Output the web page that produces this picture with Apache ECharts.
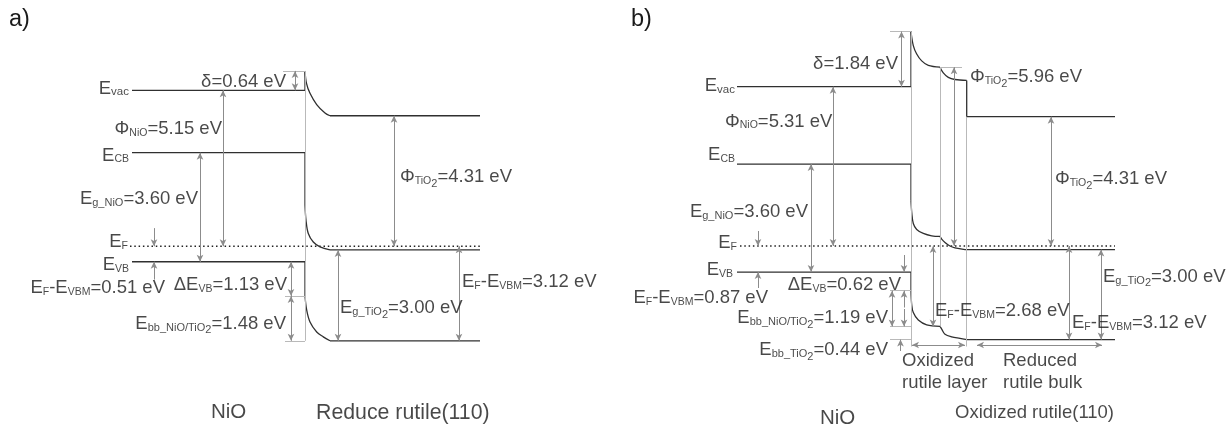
<!DOCTYPE html>
<html>
<head>
<meta charset="utf-8">
<script src="https://cdn.jsdelivr.net/npm/echarts@6/dist/echarts.min.js"></script>
<style>
html,body{margin:0;padding:0;background:#fff;}
#chart{width:1231px;height:434px;}
</style>
</head>
<body>
<div id="chart"></div>
<script>
// Energies in eV relative to the Fermi level (E_F = 0); x = schematic position, interface at 0
// ---- a) NiO / reduced rutile(110)
const aNiOVac    = [[-17.3, 5.15], [0, 5.15], [0, 5.79]];
const aTiVacBend = [[0, 5.79], [0.15, 5.38], [0.5, 5.05], [1.17, 4.68], [2.0, 4.40], [2.5, 4.31]];
const aTiVac     = [[2.5, 4.31], [17.5, 4.31]];
const aNiOCB     = [[-17.3, 3.09], [0, 3.09], [0, 1.36]];
const aTiCBBend  = [[0, 1.36], [0.1, 0.86], [0.33, 0.42], [0.83, 0.14], [1.5, -0.02], [2.5, -0.12]];
const aTiCB      = [[2.5, -0.12], [17.5, -0.12]];
const aNiOVB     = [[-17.3, -0.51], [0, -0.51], [0, -1.64]];
const aTiVBBend  = [[0, -1.64], [0.17, -2.11], [0.5, -2.50], [1.17, -2.83], [1.83, -2.99], [2.5, -3.12]];
const aTiVB      = [[2.5, -3.12], [17.5, -3.12]];
const aFermi     = [[-17.5, 0], [17.5, 0]];

// ---- b) NiO / oxidized rutile(110)
const bNiOVac     = [[-17.4, 5.31], [0, 5.31], [0, 7.15]];
const bTiVacBend1 = [[0, 7.15], [0.23, 6.68], [0.57, 6.40], [1.07, 6.17], [1.73, 6.02], [2.9, 5.96]];
const bTiVacBend2 = [[2.9, 5.96], [3.23, 5.77], [3.73, 5.62], [4.4, 5.55], [5.57, 5.52]];
const bTiVac      = [[5.57, 5.52], [5.57, 4.31], [20.4, 4.31]];
const bNiOCB      = [[-17.4, 2.73], [0, 2.73], [0, 1.51]];
const bTiCBBend1  = [[0, 1.51], [0.08, 1.10], [0.23, 0.75], [0.57, 0.55], [1.23, 0.42], [2.07, 0.34], [2.9, 0.32]];
const bTiCBBend2  = [[2.9, 0.32], [3.07, 0.23], [3.4, 0.12], [3.9, 0.0], [4.4, -0.06], [5.4, -0.12]];
const bTiCB       = [[5.4, -0.12], [20.4, -0.12]];
const bNiOVB      = [[-17.4, -0.87], [0, -0.87], [0, -1.49]];
const bTiVBBend1  = [[0, -1.49], [0.07, -1.95], [0.23, -2.22], [0.73, -2.47], [1.57, -2.63], [2.9, -2.68]];
const bTiVBBend2  = [[2.9, -2.68], [3.07, -2.77], [3.4, -2.94], [4.07, -3.03], [4.9, -3.08], [5.57, -3.12]];
const bTiVB       = [[5.57, -3.12], [20.4, -3.12]];
const bFermi      = [[-17.1, 0], [20.4, 0]];

const FONT = 'Liberation Sans, Arial, sans-serif';
const BLACK = '#303030';
const GUIDE = '#b9b9b9';
const ARROW = '#8c8c8c';
const TXT = '#1a1a1a';

const RICH = {
  m: {fontSize: 18.5, lineHeight: 22, verticalAlign: 'bottom', fontFamily: FONT, color: TXT},
  L: {fontSize: 20.5, lineHeight: 22, verticalAlign: 'bottom', fontFamily: FONT, color: TXT},
  X: {fontSize: 21.3, lineHeight: 22, verticalAlign: 'bottom', fontFamily: FONT, color: TXT},
  s: {fontSize: 11.5, lineHeight: 17, verticalAlign: 'bottom', fontFamily: FONT, color: TXT},
  c: {fontSize: 10.5, lineHeight: 16, verticalAlign: 'bottom', fontFamily: FONT, color: TXT},
  g: {fontSize: 11, lineHeight: 14, verticalAlign: 'bottom', fontFamily: FONT, color: TXT},
  t: {fontSize: 11, lineHeight: 7, verticalAlign: 'top', padding: [13.5, 0, 0, 0], fontFamily: FONT, color: TXT}
};

function band(data, i, smooth) {
  return {type: 'line', xAxisIndex: i, yAxisIndex: i, data: data, symbol: 'none',
    smooth: smooth ? 0.35 : false,
    lineStyle: {color: BLACK, width: 1.3}, silent: true, animation: false, z: 4};
}
function fermi(data, i) {
  return {type: 'line', xAxisIndex: i, yAxisIndex: i, data: data, symbol: 'none',
    lineStyle: {color: '#222', width: 1.6, type: [1.5, 2.8]}, silent: true, animation: false, z: 4};
}
const AS = [5, 7];
function seg(x1, y1, x2, y2, s1, s2) {
  return [{coord: [x1, y1], symbol: s1 || 'none', symbolSize: AS}, {coord: [x2, y2], symbol: s2 || 'none', symbolSize: AS}];
}
function dbl(x, y1, y2) { return seg(x, y1, x, y2, 'arrow', 'arrow'); }
function one(x, yFrom, yTo) { return seg(x, yFrom, x, yTo, 'none', 'arrow'); }
function dblH(x1, x2, y) { return seg(x1, y, x2, y, 'arrow', 'arrow'); }
function marks(i, segs, color, z) {
  return {type: 'line', xAxisIndex: i, yAxisIndex: i, data: [], symbol: 'none', color: color,
    silent: true, animation: false, z: z,
    markLine: {silent: true, animation: false, symbol: ['none', 'none'],
      label: {show: false}, emphasis: {disabled: true},
      itemStyle: {color: color},
      lineStyle: {color: color, width: 1, type: 'solid'}, data: segs}};
}
function texts(i, items) {
  return {type: 'scatter', xAxisIndex: i, yAxisIndex: i, symbolSize: 0.1, clip: false,
    silent: true, animation: false, z: 6, itemStyle: {color: 'rgba(0,0,0,0)'},
    label: {show: true, position: 'inside', verticalAlign: 'middle', color: TXT, fontFamily: FONT, rich: RICH},
    data: items.map(function (d) { return {value: [d[0], d[1]], label: {formatter: d[2], align: d[3]}}; })};
}

const aGuides = [
  seg(0, 5.79, 0, -3.12), seg(-2.2, 5.79, 0, 5.79), seg(-2.0, -1.64, 0, -1.64), seg(-2.0, -3.12, 0, -3.12)
];
const aArrows = [
  dbl(-1.0, 5.79, 5.15), dbl(-1.4, -0.51, -1.64), dbl(-1.4, -1.64, -3.12),
  dbl(-8.2, 5.15, 0), dbl(-10.5, 3.09, -0.51),
  one(-15.1, 0.6, 0), one(-15.1, -1.1, -0.51),
  dbl(8.9, 4.31, 0), dbl(3.3, -0.12, -3.12), dbl(15.4, 0, -3.12)
];
const bGuides = [
  seg(0, 7.15, 0, -3.35), seg(-2.1, 7.15, 0, 7.15),
  seg(2.97, 5.96, 2.97, -2.68), seg(2.9, 5.96, 5.1, 5.96),
  seg(5.57, 4.31, 5.57, -3.35),
  seg(-2.1, -1.49, 0, -1.49), seg(-2.1, -2.68, 0, -2.68), seg(-2.1, -3.12, 0, -3.12)
];
const bArrows = [
  dbl(-0.95, 7.15, 5.31), dbl(4.3, 5.96, 0), dbl(-7.8, 5.31, 0), dbl(-10.0, 2.73, -0.87),
  one(-15.3, 0.5, 0), one(-15.3, -1.4, -0.87),
  one(-0.7, -0.3, -0.87), one(-0.7, -2.05, -1.49), one(-0.7, -2.1, -2.68), one(-1.05, -3.5, -3.12),
  dbl(-1.9, -1.49, -2.68), dbl(2.2, 0, -2.68),
  dblH(0.1, 5.4, -3.3), dblH(6.6, 19.1, -3.3),
  dbl(14.0, 4.31, 0), dbl(15.8, 0, -3.12), dbl(19.0, -0.12, -3.12)
];

const aTexts = [
  [-17.6, 5.25, '{m|E}{s|vac}', 'right'],
  [-1.9, 5.48, '{m|δ=0.64 eV}', 'right'],
  [-8.3, 3.93, '{m|Φ}{c|NiO}{m|=5.15 eV}', 'right'],
  [-17.6, 3.05, '{m|E}{c|CB}', 'right'],
  [-10.7, 1.60, '{m|E}{g|g_NiO}{m|=3.60 eV}', 'right'],
  [-17.7, 0.20, '{m|E}{c|F}', 'right'],
  [-17.6, -0.56, '{m|E}{c|VB}', 'right'],
  [-14.0, -1.34, '{m|E}{c|F}{m|-E}{c|VBM}{m|=0.51 eV}', 'right'],
  [-1.8, -1.24, '{m|ΔE}{c|VB}{m|=1.13 eV}', 'right'],
  [-1.9, -2.50, '{m|E}{g|bb_NiO/TiO}{t|2}{m|=1.48 eV}', 'right'],
  [9.5, 2.33, '{m|Φ}{c|TiO}{t|2}{m|=4.31 eV}', 'left'],
  [3.5, -2.00, '{m|E}{g|g_TiO}{t|2}{m|=3.00 eV}', 'left'],
  [15.7, -1.12, '{m|E}{c|F}{m|-E}{c|VBM}{m|=3.12 eV}', 'left'],
  [-9.4, -5.48, '{L|NiO}', 'left'],
  [1.1, -5.48, '{X|Reduce rutile(110)}', 'left']
];
const bTexts = [
  [-17.6, 5.37, '{m|E}{s|vac}', 'right'],
  [-1.3, 6.13, '{m|δ=1.84 eV}', 'right'],
  [-18.6, 4.20, '{m|Φ}{c|NiO}{m|=5.31 eV}', 'left'],
  [-17.6, 3.08, '{m|E}{c|CB}', 'right'],
  [5.9, 5.68, '{m|Φ}{c|TiO}{t|2}{m|=5.96 eV}', 'left'],
  [14.4, 2.28, '{m|Φ}{c|TiO}{t|2}{m|=4.31 eV}', 'left'],
  [-10.3, 1.17, '{m|E}{g|g_NiO}{m|=3.60 eV}', 'right'],
  [-17.4, 0.15, '{m|E}{c|F}', 'right'],
  [-17.8, -0.75, '{m|E}{c|VB}', 'right'],
  [-1.0, -1.25, '{m|ΔE}{c|VB}{m|=0.62 eV}', 'right'],
  [-14.3, -1.68, '{m|E}{c|F}{m|-E}{c|VBM}{m|=0.87 eV}', 'right'],
  [-2.3, -2.35, '{m|E}{g|bb_NiO/TiO}{t|2}{m|=1.19 eV}', 'right'],
  [-2.3, -3.42, '{m|E}{g|bb_TiO}{t|2}{m|=0.44 eV}', 'right'],
  [2.4, -2.13, '{m|E}{c|F}{m|-E}{c|VBM}{m|=2.68 eV}', 'left'],
  [19.2, -0.97, '{m|E}{g|g_TiO}{t|2}{m|=3.00 eV}', 'left'],
  [16.1, -2.52, '{m|E}{c|F}{m|-E}{c|VBM}{m|=3.12 eV}', 'left'],
  [-0.9, -3.78, '{m|Oxidized}', 'left'],
  [-0.9, -4.50, '{m|rutile layer}', 'left'],
  [9.2, -3.78, '{m|Reduced}', 'left'],
  [9.2, -4.50, '{m|rutile bulk}', 'left'],
  [-9.1, -5.73, '{L|NiO}', 'left'],
  [4.4, -5.53, '{m|Oxidized rutile(110)}', 'left']
];

const axX = function (i) { return {type: 'value', gridIndex: i, min: -25, max: 30, show: false}; };
const axY = function (i) { return {type: 'value', gridIndex: i, min: -6, max: 8, show: false}; };

const option = {
  backgroundColor: '#fff',
  animation: false,
  title: [
    {text: 'a)', left: 4, top: 3, textStyle: {fontSize: 23.5, fontWeight: 'normal', fontFamily: FONT, color: TXT}},
    {text: 'b)', left: 626, top: 3, textStyle: {fontSize: 23.5, fontWeight: 'normal', fontFamily: FONT, color: TXT}}
  ],
  grid: [
    {left: 55, width: 550, top: 4, height: 424},
    {left: 661, width: 550, top: 6, height: 420}
  ],
  xAxis: [axX(0), axX(1)],
  yAxis: [axY(0), axY(1)],
  series: [
    marks(0, aGuides, GUIDE, 1), marks(0, aArrows, ARROW, 2),
    fermi(aFermi, 0),
    band(aNiOVac, 0), band(aTiVacBend, 0, true), band(aTiVac, 0),
    band(aNiOCB, 0), band(aTiCBBend, 0, true), band(aTiCB, 0),
    band(aNiOVB, 0), band(aTiVBBend, 0, true), band(aTiVB, 0),
    texts(0, aTexts),
    marks(1, bGuides, GUIDE, 1), marks(1, bArrows, ARROW, 2),
    fermi(bFermi, 1),
    band(bNiOVac, 1), band(bTiVacBend1, 1, true), band(bTiVacBend2, 1, true), band(bTiVac, 1),
    band(bNiOCB, 1), band(bTiCBBend1, 1, true), band(bTiCBBend2, 1, true), band(bTiCB, 1),
    band(bNiOVB, 1), band(bTiVBBend1, 1, true), band(bTiVBBend2, 1, true), band(bTiVB, 1),
    texts(1, bTexts)
  ]
};
const chart = echarts.init(document.getElementById('chart'), null, {renderer: 'canvas'});
chart.setOption(option);
</script>
</body>
</html>
